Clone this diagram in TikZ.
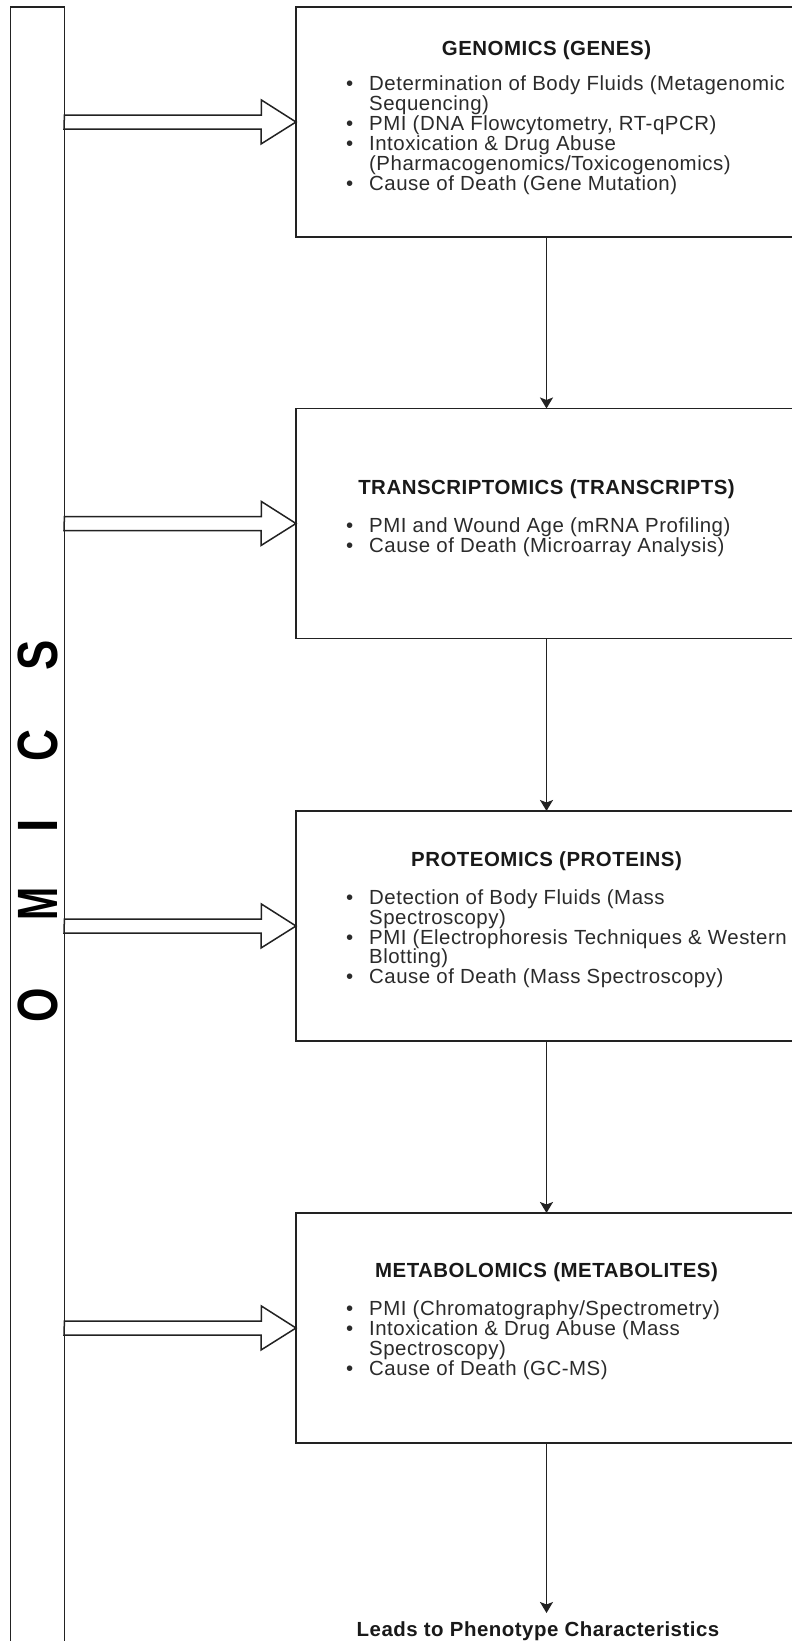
\documentclass[tikz,border=0pt]{standalone}
\usepackage{fontspec}
\usepackage{graphicx}
\setmainfont{Liberation Sans}
\newfontfamily\bodyfont[LetterSpace=2.5]{Liberation Sans}
\usetikzlibrary{arrows.meta}
\definecolor{ln}{HTML}{222222}
\definecolor{tx}{HTML}{2b2b2b}
\newcommand{\bi}[1]{\smash{\llap{\textbullet\hspace{16bp}}#1}}
\newcommand{\ct}[1]{\smash{#1}}
\tikzset{
  box/.style={draw=ln, line width=1.6bp, minimum width=501bp, minimum height=230bp, inner sep=0pt, outer sep=0pt},
  ttl/.style={anchor=base, inner sep=0pt, text=black!90, font=\bodyfont\bfseries\fontsize{20.5}{20}\selectfont},
  lst/.style={anchor=north west, inner sep=0pt, text=tx, font=\bodyfont\fontsize{20.5}{20}\selectfont},
  flow/.style={draw=ln, line width=1.6bp, -{Stealth[length=11bp,width=13bp,inset=2.5bp]}},
  hollow/.style={draw=ln, line width=1.5bp, fill=white, line join=miter},
  bar/.style={draw=ln, line width=1.6bp, minimum width=54bp, minimum height=1700bp, inner sep=0pt, outer sep=0pt},
  letter/.style={rotate=90, inner sep=0pt, text=black, font=\fontsize{57}{57}\selectfont\bfseries},
}
\begin{document}
\begin{tikzpicture}[x=1bp, y=-1bp]
\useasboundingbox (0,0) rectangle (792,1641);
\fill[white] (0,0) rectangle (792,1641);
\clip (0,0) rectangle (792,1641);

% OMICS bar
\node[bar] (bar) at (37.4,857) {};
\node[letter] (lO) at (37.5,1005) {\scalebox{0.78}[1]{O}};
\node[letter] (lM) at (37.5,904) {\scalebox{0.7}[1]{M}};
\node[letter] (lI) at (37.5,826) {\scalebox{0.85}[1]{I}};
\node[letter] (lC) at (37.5,745) {\scalebox{0.78}[1]{C}};
\node[letter] (lS) at (37.5,655) {\scalebox{0.8}[1]{S}};

% boxes
\node[box] (g) at (546.5,122) {};
\node[box] (t) at (546.5,523.5) {};
\node[box] (p) at (546.5,926) {};
\node[box] (m) at (546.5,1328) {};

% titles
\node[ttl] (gT) at (546.5,55.5) {GENOMICS (GENES)};
\node[ttl] (tT) at (546.5,494.5) {TRANSCRIPTOMICS (TRANSCRIPTS)};
\node[ttl] (pT) at (546.5,866.5) {PROTEOMICS (PROTEINS)};
\node[ttl] (mT) at (546.5,1277.5) {METABOLOMICS (METABOLITES)};

% lists
\node[lst] (gL) at (369,76.3) {\begin{tabular}{@{}l@{}}
\bi{Determination of Body Fluids (Metagenomic}\\
\ct{Sequencing)}\\
\bi{PMI (DNA Flowcytometry, RT-qPCR)}\\
\bi{Intoxication \& Drug Abuse}\\
\ct{(Pharmacogenomics/Toxicogenomics)}\\
\bi{Cause of Death (Gene Mutation)}
\end{tabular}};
\node[lst] (tL) at (369,518.3) {\begin{tabular}{@{}l@{}}
\bi{PMI and Wound Age (mRNA Profiling)}\\
\bi{Cause of Death (Microarray Analysis)}
\end{tabular}};
\node[lst] (pL) at (369,890) {\begin{tabular}{@{}l@{}}
\bi{Detection of Body Fluids (Mass}\\
\ct{Spectroscopy)}\\
\bi{PMI (Electrophoresis Techniques \& Western}\\
\ct{Blotting)}\\
\bi{Cause of Death (Mass Spectroscopy)}
\end{tabular}};
\node[lst] (mL) at (369,1301.8) {\begin{tabular}{@{}l@{}}
\bi{PMI (Chromatography/Spectrometry)}\\
\bi{Intoxication \& Drug Abuse (Mass}\\
\ct{Spectroscopy)}\\
\bi{Cause of Death (GC-MS)}
\end{tabular}};

% flow arrows
\draw[flow] (g.south) -- (t.north);
\draw[flow] (t.south) -- (p.north);
\draw[flow] (p.south) -- (m.north);
\coordinate (end) at (546.5,1613);
\draw[flow] (m.south) -- (end);
\node[ttl] (lead) at (538,1636) {Leads to Phenotype Characteristics};

% hollow arrows from OMICS bar
\foreach \b in {g,t,p,m}{
  \draw[hollow] (bar.east |- \b.west) ++(0,-7) -- ++(197,0) -- ++(0,-15) -- (\b.west)
    -- ++(-35,22) -- ++(0,-15) -- ++(-197,0) -- cycle;
}
\end{tikzpicture}
\end{document}
